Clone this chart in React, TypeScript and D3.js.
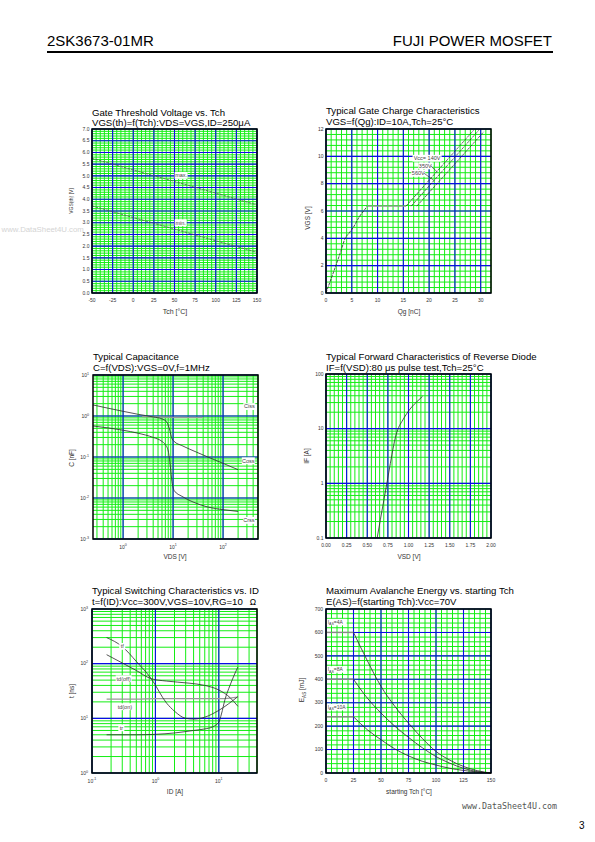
import React from "react";
import * as d3 from "d3";

const FONT = "'Liberation Sans', Arial, Helvetica, sans-serif";
const GREEN = "#14ee14";
const BLUE = "#0b0be6";
const INK = "#2a2a2a";
const LABEL = "#333";

// ---------- Chart 1: Gate threshold voltage ----------
const gtTch = [-50, 0, 50, 100, 150];
const gtMax = [5.75, 5.25, 4.76, 4.26, 3.76];
const gtMin = [3.72, 3.22, 2.73, 2.23, 1.74];
const gtXTicks = [-50, -25, 0, 25, 50, 75, 100, 125, 150];
const gtYTicks = [0, 0.5, 1, 1.5, 2, 2.5, 3, 3.5, 4, 4.5, 5, 5.5, 6, 6.5, 7];

// ---------- Chart 2: Gate charge ----------
const gcQg = [0, 1, 2, 3, 3.6, 4.5, 5.3, 6.5, 7.5, 8];
const gcVgs = [0, 1.05, 2.1, 3.2, 3.9, 4.4, 4.8, 5.6, 6.1, 6.35];
const gcPlateauQg = [8, 15.5];
const gcPlateauVgs = [6.35, 6.35];
const gcVccLabels = ["Vcc= 140V", "350V", "560V"];
const gcLineStartQg = [15.5, 16.5, 17.6];
const gcLineEndQg = [28.6, 29.6, 30.6];
const gcLineEndVgs = [11.9, 11.9, 11.8];
const gcXTicks = [0, 5, 10, 15, 20, 25, 30];
const gcYTicks = [0, 2, 4, 6, 8, 10, 12];

// ---------- Chart 3: Capacitance ----------
const capCissVds = [2.4, 4, 10, 20, 40];
const capCiss = [0.97, 0.95, 0.93, 0.92, 0.92];
const capCossVds = [0.25, 0.5, 1, 2, 4, 6, 7.2, 8, 8.7, 9.3, 10.5, 15, 30, 100, 200];
const capCoss = [1.86, 1.55, 1.3, 1.1, 0.95, 0.85, 0.75, 0.6, 0.42, 0.3, 0.24, 0.19, 0.13, 0.07, 0.049];
const capCrssVds = [0.25, 1, 2, 4, 6, 7, 8, 8.8, 9.5, 10.6, 15, 25, 50, 100, 200];
const capCrss = [0.57, 0.45, 0.38, 0.3, 0.24, 0.2, 0.14, 0.06, 0.025, 0.015, 0.011, 0.008, 0.006, 0.0052, 0.0047];
const capXExp = [0, 1, 2];
const capYExp = [-3, -2, -1, 0, 1];

// ---------- Chart 4: Reverse diode ----------
const rdVsd = [0.62, 0.66, 0.7, 0.73, 0.76, 0.8, 0.84, 0.88, 0.92, 0.98, 1.04, 1.1, 1.17];
const rdIf = [0.1, 0.22, 0.48, 0.86, 1.55, 3.4, 6.8, 10.5, 13.5, 19, 25, 31, 39];
const rdXTicks = [0, 0.25, 0.5, 0.75, 1, 1.25, 1.5, 1.75, 2];
const rdXLabels = ["0.00", "0.25", "0.50", "0.75", "1.00", "1.25", "1.50", "1.75", "2.00"];
const rdYTicks = [0.1, 1, 10, 100];
const rdYLabels = ["0.1", "1", "10", "100"];

// ---------- Chart 5: Switching ----------
const swTfId = [0.17, 0.3, 0.5, 0.86, 1.5, 2, 3, 4, 6, 10, 20];
const swTf = [300, 205, 110, 53, 19, 13.5, 10, 9.7, 10.5, 14, 25];
const swTdoffId = [0.17, 0.3, 0.5, 0.86, 1.5, 3.4, 6, 10, 15, 20];
const swTdoff = [146, 103, 75, 53, 48, 44, 40, 33, 24, 16.6];
const swTdonId = [0.17, 0.5, 1, 3, 6, 10, 15, 20];
const swTdon = [22.5, 22.5, 23, 23, 23, 23, 23.5, 24.5];
const swTrId = [0.17, 0.5, 1, 2, 4, 6, 8, 10, 11, 12.5, 15, 17.5, 20];
const swTr = [5, 5, 5.1, 5.4, 6, 6.4, 7, 8.5, 12, 22, 40, 62, 87];
const swXExp = [-1, 0, 1];
const swYExp = [0, 1, 2, 3];

// ---------- Chart 6: Avalanche energy ----------
const avTch = [25, 37.5, 50, 62.5, 75, 87.5, 100, 112.5, 125, 137.5, 150];
const av4A = [600, 480, 370, 285, 213, 148, 92, 55, 28, 10, 0];
const av8A = [400, 320, 256, 200, 152, 108, 70, 42, 20, 6, 0];
const av10A = [240, 185, 142, 103, 73, 50, 34, 20, 11, 4, 0];
const avFlatTch = [0, 25];
const avXTicks = [0, 25, 50, 75, 100, 125, 150];
const avYTicks = [0, 100, 200, 300, 400, 500, 600, 700];

type Frame = { l: number; t: number; w: number; h: number };
const F1: Frame = { l: 92, t: 129, w: 165, h: 164 };
const F2: Frame = { l: 326, t: 129, w: 165, h: 164 };
const F3: Frame = { l: 93, t: 375, w: 165, h: 164 };
const F4: Frame = { l: 326, t: 374, w: 165, h: 164 };
const F5: Frame = { l: 92, t: 609, w: 165, h: 164 };
const F6: Frame = { l: 326, t: 609, w: 165, h: 164 };

const TITLE_FS = 9.6;

function steps(min: number, max: number, step: number): number[] {
  const n = Math.round((max - min) / step);
  return d3.range(0, n + 1).map((i) => min + i * step);
}
function logMinor(min: number, max: number): number[] {
  const out: number[] = [];
  for (let k = Math.floor(Math.log10(min)); k <= Math.ceil(Math.log10(max)); k++) {
    for (let m = 1; m <= 9; m++) {
      const v = m * Math.pow(10, k);
      if (v >= min * 0.999 && v <= max * 1.001) out.push(v);
    }
  }
  return out;
}
function logMajor(min: number, max: number): number[] {
  return logMinor(min, max).filter((v) => Math.abs(Math.log10(v) - Math.round(Math.log10(v))) < 1e-9);
}

function path(x: any, y: any, xs: number[], ys: number[], curve: any = d3.curveMonotoneX) {
  return (
    d3
      .line<number>()
      .x((d) => x(d))
      .y((_, i) => y(ys[i]))
      .curve(curve)(xs) || ""
  );
}

function Panel(props: {
  f: Frame;
  x: any;
  y: any;
  xMinor: number[];
  xMajor: number[];
  yMinor: number[];
  yMajor: number[];
  children?: any;
}) {
  const { f, x, y, xMinor, xMajor, yMinor, yMajor } = props;
  const b = f.t + f.h;
  const r = f.l + f.w;
  return (
    <g>
      <rect x={f.l} y={f.t} width={f.w} height={f.h} fill="#fff" />
      {xMinor.map((v, i) => (
        <line key={"xm" + i} x1={x(v)} x2={x(v)} y1={f.t} y2={b} stroke={GREEN} strokeWidth={1} />
      ))}
      {yMinor.map((v, i) => (
        <line key={"ym" + i} y1={y(v)} y2={y(v)} x1={f.l} x2={r} stroke={GREEN} strokeWidth={1} />
      ))}
      {xMajor.map((v, i) => (
        <line key={"xM" + i} x1={x(v)} x2={x(v)} y1={f.t} y2={b} stroke={BLUE} strokeWidth={1.1} />
      ))}
      {yMajor.map((v, i) => (
        <line key={"yM" + i} y1={y(v)} y2={y(v)} x1={f.l} x2={r} stroke={BLUE} strokeWidth={1.1} />
      ))}
      {props.children}
      <rect x={f.l} y={f.t} width={f.w} height={f.h} fill="none" stroke="#000" strokeWidth={1.5} />
    </g>
  );
}

function Tag({ x, y, text, fs = 5.5, w }: { x: number; y: number; text: string; fs?: number; w?: number }) {
  const ww = w ?? text.length * fs * 0.52 + 3;
  return (
    <g>
      <rect x={x - ww / 2} y={y - fs * 0.62} width={ww} height={fs * 1.24} fill="#fff" />
      <text x={x} y={y} dy="0.35em" textAnchor="middle" fontSize={fs} fill="#444">
        {text}
      </text>
    </g>
  );
}

function Pow10({ x, y, e, anchor }: { x: number; y: number; e: number; anchor: string }) {
  return (
    <text x={x} y={y} textAnchor={anchor} fontSize={5} fill={LABEL}>
      10
      <tspan dy={-2.2} fontSize={3.6}>
        {String(e)}
      </tspan>
    </text>
  );
}

function Titles({ x, y1, y2, l1, l2 }: { x: number; y1: number; y2: number; l1: string; l2: string }) {
  return (
    <g fontSize={TITLE_FS} fill="#000">
      <text x={x} y={y1}>{l1}</text>
      <text x={x} y={y2}>{l2}</text>
    </g>
  );
}

function YTitle({ x, y, children, fs = 6.5 }: any) {
  return (
    <text transform={`translate(${x},${y}) rotate(-90)`} textAnchor="middle" fontSize={fs} fill={LABEL}>
      {children}
    </text>
  );
}

function Chart1() {
  const f = F1;
  const x = d3.scaleLinear().domain([-50, 150]).range([f.l, f.l + f.w]);
  const y = d3.scaleLinear().domain([0, 7]).range([f.t + f.h, f.t]);
  return (
    <g>
      <Titles x={f.l} y1={115.5} y2={126} l1="Gate Threshold Voltage vs. Tch" l2="VGS(th)=f(Tch):VDS=VGS,ID=250μA" />
      <Panel f={f} x={x} y={y} xMinor={steps(-50, 150, 5)} xMajor={gtXTicks} yMinor={steps(0, 7, 0.1)} yMajor={gtYTicks}>
        <path d={path(x, y, gtTch, gtMax, d3.curveLinear)} fill="none" stroke="#555" strokeWidth={0.8} strokeDasharray="2.5,1.2" />
        <path d={path(x, y, gtTch, gtMin, d3.curveLinear)} fill="none" stroke="#555" strokeWidth={0.8} strokeDasharray="2.5,1.2" />
        <Tag x={x(58)} y={y(5.02)} text="max." w={13} />
        <Tag x={x(57.5)} y={y(3.0)} text="min." w={12} />
      </Panel>
      {gtYTicks.map((v, i) => (
        <text key={i} x={f.l - 2.5} y={y(v)} dy="0.35em" textAnchor="end" fontSize={5} fill={LABEL}>
          {v.toFixed(1)}
        </text>
      ))}
      {gtXTicks.map((v, i) => (
        <text key={i} x={x(v)} y={f.t + f.h + 9} textAnchor="middle" fontSize={5} fill={LABEL}>
          {String(v)}
        </text>
      ))}
      <text x={175} y={314} textAnchor="middle" fontSize={7} fill={LABEL}>Tch [°C]</text>
      <YTitle x={73} y={201} fs={5}>VGS(th) [V]</YTitle>
    </g>
  );
}

function Chart2() {
  const f = F2;
  const x = d3.scaleLinear().domain([0, 32]).range([f.l, f.l + f.w]);
  const y = d3.scaleLinear().domain([0, 12]).range([f.t + f.h, f.t]);
  const labelPos = [
    [19.6, 9.86],
    [19.25, 9.3],
    [17.9, 8.76],
  ];
  const widths = [29, 14, 14];
  return (
    <g>
      <Titles x={f.l} y1={114} y2={125} l1="Typical Gate Charge Characteristics" l2="VGS=f(Qg):ID=10A,Tch=25°C" />
      <Panel f={f} x={x} y={y} xMinor={steps(0, 32, 1)} xMajor={gcXTicks} yMinor={steps(0, 12, 0.4)} yMajor={gcYTicks}>
        <path d={path(x, y, gcQg, gcVgs)} fill="none" stroke={INK} strokeWidth={0.8} strokeDasharray="3,1" />
        <path d={path(x, y, gcPlateauQg, gcPlateauVgs, d3.curveLinear)} fill="none" stroke="#999" strokeWidth={1.2} />
        {gcLineStartQg.map((q, i) => (
          <path
            key={i}
            d={path(x, y, [q, gcLineEndQg[i]], [6.35, gcLineEndVgs[i]], d3.curveLinear)}
            fill="none"
            stroke={INK}
            strokeWidth={0.7}
            strokeDasharray="3,1"
          />
        ))}
        {gcVccLabels.map((t, i) => (
          <Tag key={i} x={x(labelPos[i][0])} y={y(labelPos[i][1])} text={t} w={widths[i]} />
        ))}
        <line x1={x(20.3)} y1={y(9.3)} x2={x(21.6)} y2={y(8.85)} stroke={INK} strokeWidth={0.6} />
        <line x1={x(19)} y1={y(8.76)} x2={x(20.9)} y2={y(8.25)} stroke={INK} strokeWidth={0.6} />
      </Panel>
      {gcYTicks.map((v, i) => (
        <text key={i} x={f.l - 2.5} y={y(v)} dy="0.35em" textAnchor="end" fontSize={5} fill={LABEL}>
          {String(v)}
        </text>
      ))}
      {gcXTicks.map((v, i) => (
        <text key={i} x={x(v)} y={f.t + f.h + 9} textAnchor="middle" fontSize={5} fill={LABEL}>
          {String(v)}
        </text>
      ))}
      <text x={409} y={314} textAnchor="middle" fontSize={6.5} fill={LABEL}>Qg [nC]</text>
      <YTitle x={310} y={218}>VGS [V]</YTitle>
    </g>
  );
}

function Chart3() {
  const f = F3;
  const x = d3.scaleLog().domain([0.25, 500]).range([f.l, f.l + f.w]);
  const y = d3.scaleLog().domain([0.001, 10]).range([f.t + f.h, f.t]);
  return (
    <g>
      <Titles x={f.l} y1={359.5} y2={370.5} l1="Typical Capacitance" l2="C=f(VDS):VGS=0V,f=1MHz" />
      <Panel
        f={f}
        x={x}
        y={y}
        xMinor={logMinor(0.25, 500)}
        xMajor={logMajor(0.25, 500)}
        yMinor={logMinor(0.001, 10)}
        yMajor={logMajor(0.001, 10)}
      >
        <path d={path(x, y, capCissVds, capCiss)} fill="none" stroke="#999" strokeWidth={1.2} />
        <path d={path(x, y, capCossVds, capCoss)} fill="none" stroke={INK} strokeWidth={0.8} />
        <path d={path(x, y, capCrssVds, capCrss)} fill="none" stroke={INK} strokeWidth={0.8} />
        <Tag x={x(335)} y={y(1.7)} text="Ciss" w={12} />
        <Tag x={x(320)} y={y(0.081)} text="Coss" w={13} />
        <Tag x={x(330)} y={y(0.00285)} text="Crss" w={12} />
      </Panel>
      {capYExp.map((e, i) => (
        <Pow10 key={i} x={f.l - 4} y={y(Math.pow(10, e)) + 1.8} e={e} anchor="end" />
      ))}
      {capXExp.map((e, i) => (
        <Pow10 key={i} x={x(Math.pow(10, e))} y={f.t + f.h + 9.5} e={e} anchor="middle" />
      ))}
      <text x={175} y={559} textAnchor="middle" fontSize={6.5} fill={LABEL}>VDS [V]</text>
      <YTitle x={74} y={458}>C [nF]</YTitle>
    </g>
  );
}

function Chart4() {
  const f = F4;
  const x = d3.scaleLinear().domain([0, 2]).range([f.l, f.l + f.w]);
  const y = d3.scaleLog().domain([0.1, 100]).range([f.t + f.h, f.t]);
  return (
    <g>
      <Titles
        x={f.l}
        y1={359.5}
        y2={370.5}
        l1="Typical Forward Characteristics of Reverse Diode"
        l2="IF=f(VSD):80 μs pulse test,Tch=25°C"
      />
      <Panel
        f={f}
        x={x}
        y={y}
        xMinor={steps(0, 2, 0.05)}
        xMajor={rdXTicks}
        yMinor={logMinor(0.1, 100)}
        yMajor={logMajor(0.1, 100)}
      >
        <path d={path(x, y, rdVsd, rdIf)} fill="none" stroke={INK} strokeWidth={0.8} />
      </Panel>
      {rdYTicks.map((v, i) => (
        <text key={i} x={f.l - 2.5} y={y(v)} dy="0.35em" textAnchor="end" fontSize={5} fill={LABEL}>
          {rdYLabels[i]}
        </text>
      ))}
      {rdXTicks.map((v, i) => (
        <text key={i} x={x(v)} y={f.t + f.h + 9} textAnchor="middle" fontSize={5} fill={LABEL}>
          {rdXLabels[i]}
        </text>
      ))}
      <text x={409} y={559} textAnchor="middle" fontSize={6.5} fill={LABEL}>VSD [V]</text>
      <YTitle x={309} y={456}>IF [A]</YTitle>
    </g>
  );
}

function Chart5() {
  const f = F5;
  const x = d3.scaleLog().domain([0.1, 40]).range([f.l, f.l + f.w]);
  const y = d3.scaleLog().domain([1, 1000]).range([f.t + f.h, f.t]);
  return (
    <g>
      <Titles
        x={f.l}
        y1={593.5}
        y2={604.5}
        l1="Typical Switching Characteristics vs. ID"
        l2="t=f(ID):Vcc=300V,VGS=10V,RG=10"
      />
      <text x={253} y={604.5} textAnchor="middle" fontSize={8.5} fill="#000">Ω</text>
      <Panel f={f} x={x} y={y} xMinor={logMinor(0.1, 40)} xMajor={logMajor(0.1, 40)} yMinor={logMinor(1, 1000)} yMajor={logMajor(1, 1000)}>
        <path d={path(x, y, swTdonId, swTdon)} fill="none" stroke="#999" strokeWidth={1.2} />
        <path d={path(x, y, swTfId, swTf)} fill="none" stroke={INK} strokeWidth={0.8} />
        <path d={path(x, y, swTdoffId, swTdoff)} fill="none" stroke={INK} strokeWidth={0.8} />
        <path d={path(x, y, swTrId, swTr)} fill="none" stroke={INK} strokeWidth={0.8} />
        <Tag x={x(0.3)} y={y(207)} text="tf" w={6} />
        <Tag x={x(0.316)} y={y(53)} text="td(off)" w={16} />
        <Tag x={x(0.33)} y={y(16.3)} text="td(on)" w={16} />
        <Tag x={x(0.29)} y={y(6.7)} text="tr" w={6} />
      </Panel>
      {swYExp.map((e, i) => (
        <Pow10 key={i} x={f.l - 4} y={y(Math.pow(10, e)) + 1.8} e={e} anchor="end" />
      ))}
      {swXExp.map((e, i) => (
        <Pow10 key={i} x={x(Math.pow(10, e))} y={f.t + f.h + 9.5} e={e} anchor="middle" />
      ))}
      <text x={175} y={794} textAnchor="middle" fontSize={6.5} fill={LABEL}>ID [A]</text>
      <YTitle x={74} y={691}>t [ns]</YTitle>
    </g>
  );
}

function IasLabel({ x, y, amp }: { x: number; y: number; amp: string }) {
  return (
    <g>
      <rect x={x - 1} y={y - 3.5} width={20} height={6.5} fill="#fff" />
      <text x={x} y={y} dy="0.35em" fontSize={5} fill="#444">
        I
        <tspan dy={1.2} fontSize={3.6}>AS</tspan>
        <tspan dy={-1.2}>{"=" + amp}</tspan>
      </text>
    </g>
  );
}

function Chart6() {
  const f = F6;
  const x = d3.scaleLinear().domain([0, 150]).range([f.l, f.l + f.w]);
  const y = d3.scaleLinear().domain([0, 700]).range([f.t + f.h, f.t]);
  const series = [av4A, av8A, av10A];
  return (
    <g>
      <Titles
        x={f.l}
        y1={593.5}
        y2={604.5}
        l1="Maximum Avalanche Energy vs. starting Tch"
        l2="E(AS)=f(starting Tch):Vcc=70V"
      />
      <Panel f={f} x={x} y={y} xMinor={steps(0, 150, 5)} xMajor={avXTicks} yMinor={steps(0, 700, 20)} yMajor={avYTicks}>
        {series.map((s, i) => (
          <g key={i}>
            <path d={path(x, y, avFlatTch, [s[0], s[0]], d3.curveLinear)} fill="none" stroke="#888" strokeWidth={1.4} />
            <path d={path(x, y, avTch, s)} fill="none" stroke={INK} strokeWidth={0.8} />
          </g>
        ))}
        <IasLabel x={x(1.5)} y={y(643)} amp="4A" />
        <IasLabel x={x(1.5)} y={y(441)} amp="8A" />
        <IasLabel x={x(1.5)} y={y(280)} amp="10A" />
      </Panel>
      {avYTicks.map((v, i) => (
        <text key={i} x={f.l - 3} y={y(v)} dy="0.35em" textAnchor="end" fontSize={5} fill={LABEL}>
          {String(v)}
        </text>
      ))}
      {avXTicks.map((v, i) => (
        <text key={i} x={x(v)} y={f.t + f.h + 9} textAnchor="middle" fontSize={5} fill={LABEL}>
          {String(v)}
        </text>
      ))}
      <text x={409} y={794} textAnchor="middle" fontSize={6.5} fill={LABEL}>starting Tch [°C]</text>
      <text transform="translate(304,690) rotate(-90)" textAnchor="middle" fontSize={6.5} fill={LABEL}>
        E
        <tspan dy={1.5} fontSize={4.5}>AS</tspan>
        <tspan dy={-1.5}> [mJ]</tspan>
      </text>
    </g>
  );
}

export default function App() {
  return (
    <svg
      width={595}
      height={842}
      viewBox="0 0 595 842"
      style={{ position: "absolute", left: 0, top: 0, display: "block" }}
      fontFamily={FONT}
    >
      <rect width={595} height={842} fill="#fff" />
      <text x={47} y={46} fontSize={15} fill="#000">2SK3673-01MR</text>
      <text x={552} y={46} fontSize={15} fill="#000" textAnchor="end">FUJI POWER MOSFET</text>
      <line x1={47} x2={553} y1={52} y2={52} stroke="#000" strokeWidth={2} />
      <text x={1.5} y={232} fontSize={7.8} fill="#d4d4d4">www.DataSheet4U.com</text>
      <Chart1 />
      <Chart2 />
      <Chart3 />
      <Chart4 />
      <Chart5 />
      <Chart6 />
      <text x={557} y={808.5} textAnchor="end" fontSize={8.3} fill="#555" fontFamily="'DejaVu Sans Mono', monospace">
        www.DataSheet4U.com
      </text>
      <text x={584.5} y={829} textAnchor="end" fontSize={10} fill="#000">3</text>
    </svg>
  );
}
